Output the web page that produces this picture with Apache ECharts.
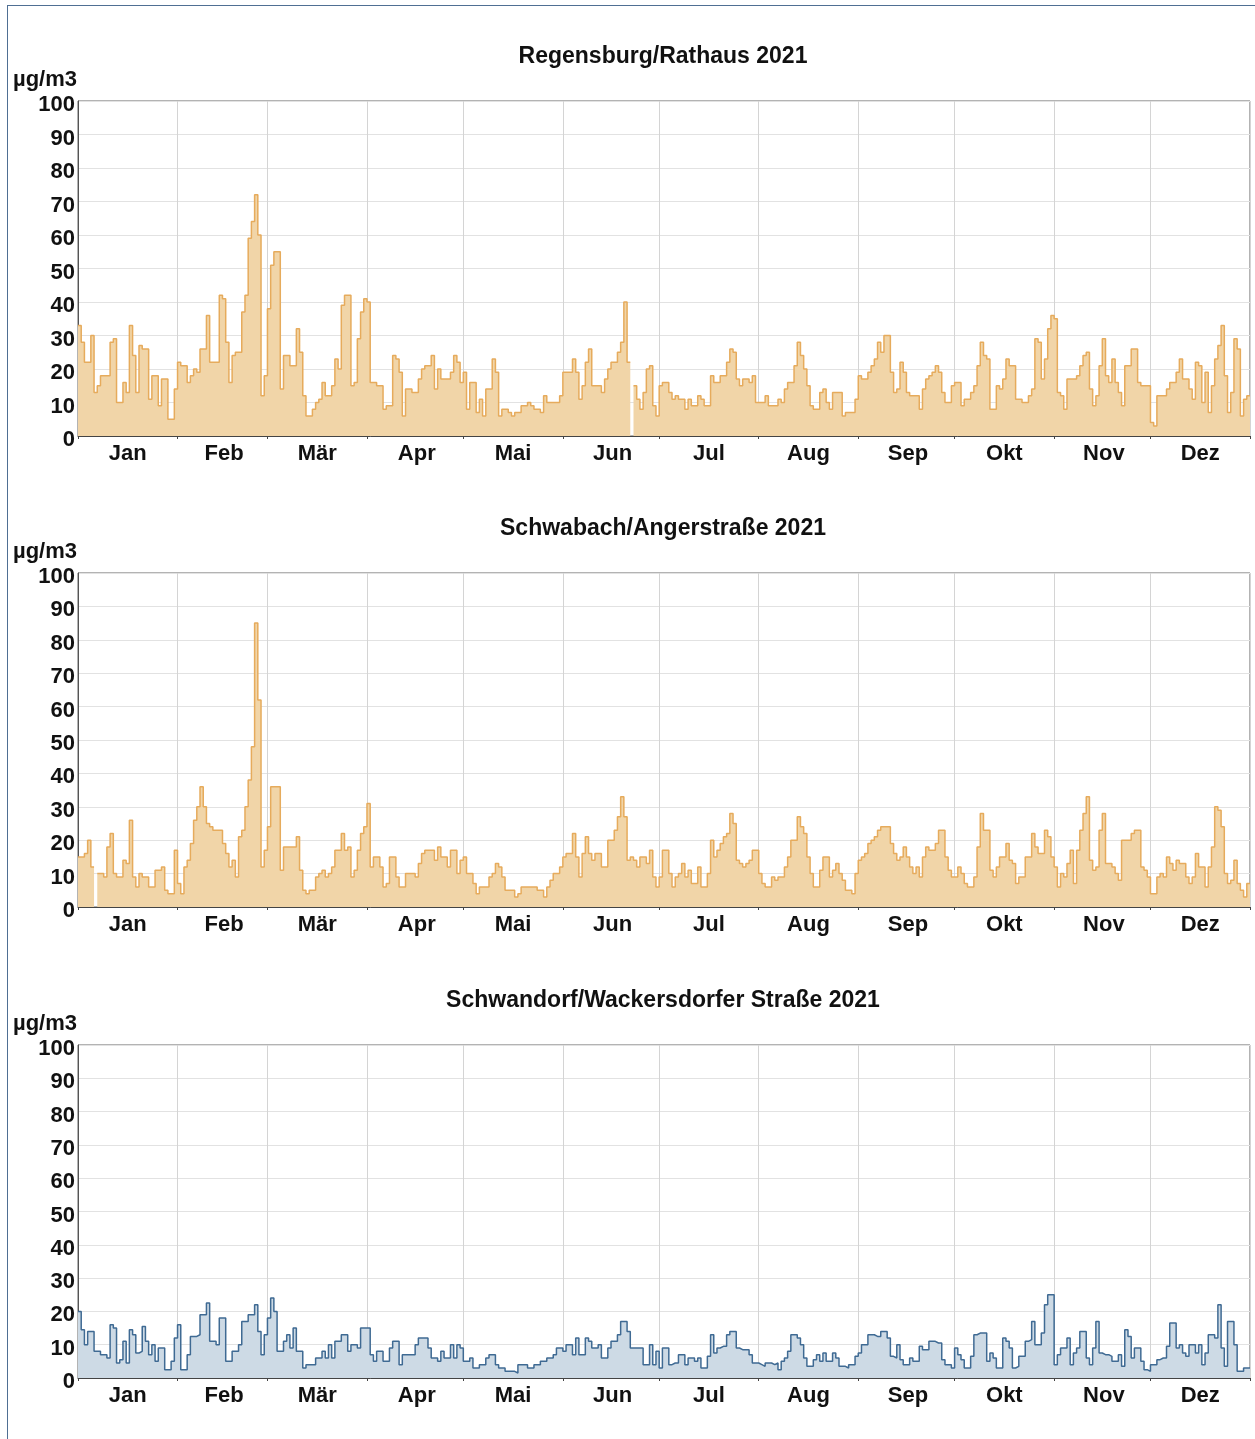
<!DOCTYPE html>
<html>
<head>
<meta charset="utf-8">
<script src="https://cdn.jsdelivr.net/npm/echarts@6/dist/echarts.min.js"></script>
<style>
  html, body { margin: 0; padding: 0; background: #fff; }
  #frame {
    position: absolute; left: 7px; top: 5px; right: 0; bottom: 0;
    border-top: 1px solid #4f6f93; border-left: 1px solid #4f6f93;
  }
  #chart { position: absolute; left: 0; top: 0; width: 1255px; height: 1439px; }
</style>
</head>
<body>
<div id="frame"></div>
<div id="chart"></div>
<script>
  // Tagesmittelwerte 2021 (µg/m3), ein Wert pro Tag, null = Datenlücke
  const months = ['Jan', 'Feb', 'Mär', 'Apr', 'Mai', 'Jun', 'Jul', 'Aug', 'Sep', 'Okt', 'Nov', 'Dez'];
  const monthDays = [31, 28, 31, 30, 31, 30, 31, 31, 30, 31, 30, 31];
  const yTicks = [0, 10, 20, 30, 40, 50, 60, 70, 80, 90, 100];
  const stations = ['Regensburg/Rathaus 2021', 'Schwabach/Angerstraße 2021', 'Schwandorf/Wackersdorfer Straße 2021'];

  const regensburg = [
    33, 28, 22, 22, 30, 13, 15, 18, 18, 18, 28, 29, 10, 10, 16, 13, 33, 24, 13, 27, 26, 26, 11, 18, 18, 9, 17, 17, 5, 5, 14,
    22, 21, 21, 16, 18, 20, 19, 26, 26, 36, 22, 22, 22, 42, 41, 28, 16, 24, 25, 25, 37, 42, 59, 64, 72, 60, 12, 18,
    38, 51, 55, 55, 14, 24, 24, 21, 21, 32, 25, 12, 6, 6, 8, 10, 11, 16, 12, 12, 15, 23, 20, 39, 42, 42, 15, 16, 29, 37, 41,
    40, 16, 16, 15, 15, 8, 9, 9, 24, 23, 19, 6, 14, 14, 13, 13, 17, 20, 21, 21, 24, 14, 20, 17, 17, 17, 19, 24, 22, 16,
    19, 8, 16, 16, 7, 11, 6, 14, 14, 23, 19, 6, 8, 8, 7, 6, 7, 7, 9, 9, 10, 9, 8, 8, 7, 12, 10, 10, 10, 10, 12,
    19, 19, 19, 23, 19, 11, 15, 22, 26, 15, 15, 15, 13, 17, 20, 22, 22, 25, 28, 40, 22, null, 15, 11, 8, 13, 20, 21, 9, 6,
    15, 16, 16, 13, 11, 12, 11, 11, 8, 11, 9, 9, 12, 11, 9, 9, 18, 16, 16, 18, 18, 22, 26, 25, 17, 15, 17, 17, 16, 18, 10,
    10, 10, 12, 9, 9, 9, 11, 10, 14, 16, 16, 21, 28, 24, 20, 15, 9, 8, 8, 13, 14, 10, 8, 13, 13, 13, 6, 7, 7, 7, 11,
    18, 17, 17, 19, 21, 23, 28, 25, 30, 30, 19, 13, 14, 22, 19, 13, 12, 12, 12, 8, 14, 17, 18, 19, 21, 19, 13, 10, 10, 15,
    16, 16, 9, 11, 11, 13, 15, 21, 28, 24, 23, 8, 8, 15, 14, 17, 23, 21, 21, 11, 11, 10, 10, 12, 14, 29, 28, 17, 23, 32, 36,
    35, 13, 12, 8, 17, 17, 17, 18, 21, 24, 25, 14, 9, 12, 21, 29, 18, 16, 23, 16, 13, 9, 21, 21, 26, 26, 16, 15, 15, 15,
    4, 3, 12, 12, 12, 14, 16, 16, 19, 23, 17, 17, 14, 11, 22, 21, 10, 19, 7, 15, 23, 27, 33, 18, 7, 13, 29, 26, 6, 11, 12
  ];

  const schwabach = [
    15, 15, 16, 20, 12, null, 10, 10, 9, 18, 22, 10, 9, 9, 14, 13, 26, 9, 6, 10, 9, 9, 6, 6, 11, 11, 12, 5, 4, 4, 17,
    7, 4, 12, 14, 19, 26, 30, 36, 30, 25, 24, 23, 23, 23, 19, 16, 12, 14, 9, 21, 23, 30, 38, 48, 85, 62, 12, 17,
    24, 36, 36, 36, 11, 18, 18, 18, 18, 21, 11, 5, 4, 5, 5, 9, 10, 11, 9, 10, 12, 17, 17, 22, 17, 18, 9, 11, 17, 22, 24,
    31, 12, 15, 15, 12, 6, 7, 15, 15, 9, 6, 6, 10, 10, 10, 9, 13, 16, 17, 17, 17, 14, 18, 15, 15, 12, 17, 17, 10, 14,
    15, 10, 10, 7, 4, 6, 6, 6, 9, 10, 13, 12, 9, 5, 5, 5, 3, 4, 6, 6, 6, 6, 6, 5, 5, 3, 6, 8, 10, 10, 12,
    15, 16, 16, 22, 15, 9, 16, 21, 16, 14, 16, 16, 12, 12, 20, 20, 23, 27, 33, 27, 14, 15, 14, 12, 15, 15, 13, 17, 9, 6,
    9, 17, 17, 10, 6, 9, 10, 13, 9, 11, 7, 7, 12, 6, 6, 10, 20, 15, 17, 19, 21, 22, 28, 25, 14, 13, 12, 13, 14, 17, 17,
    10, 7, 6, 6, 9, 8, 9, 9, 12, 15, 20, 20, 27, 24, 22, 15, 10, 6, 6, 11, 15, 15, 9, 11, 13, 10, 8, 5, 5, 4, 10,
    14, 15, 16, 19, 20, 21, 23, 24, 24, 24, 19, 16, 14, 15, 18, 15, 12, 10, 12, 9, 15, 18, 17, 17, 19, 23, 23, 15, 11, 9,
    9, 12, 10, 7, 6, 6, 9, 18, 28, 23, 23, 11, 9, 12, 15, 15, 19, 14, 13, 7, 9, 9, 15, 15, 22, 18, 16, 16, 23, 21, 15,
    12, 6, 10, 9, 13, 17, 7, 17, 23, 28, 33, 14, 11, 12, 23, 28, 13, 13, 12, 10, 8, 20, 20, 20, 22, 23, 23, 12, 11, 9,
    4, 4, 9, 10, 9, 15, 13, 11, 14, 13, 13, 9, 7, 9, 16, 12, 12, 6, 12, 18, 30, 29, 24, 10, 7, 8, 14, 7, 5, 3, 7
  ];

  const schwandorf = [
    20, 14.5, 10, 14, 14, 8, 8, 7, 7, 6, 16, 15, 4.5, 5.5, 11, 4.5, 14.5, 13, 7.5, 8, 15.5, 11, 7, 10, 5, 9, 9, 2.5, 2.5, 5, 12,
    16, 2.5, 2.5, 7, 12.5, 12.5, 13, 19, 19, 22.5, 11, 11, 10, 18, 18, 5, 5, 8, 8, 10, 17, 17, 19, 19, 22, 14, 7, 13,
    18, 24, 20, 8, 8, 11, 13, 9, 15, 8, 8, 3, 4, 4, 4, 6, 6, 8, 6, 10, 6, 11, 11, 13, 13, 8, 10, 10, 9, 15, 15,
    15, 7, 5, 8, 8, 5, 5, 9, 11, 11, 4, 7, 7, 7, 7, 10, 12, 12, 12, 9, 6, 6, 5, 8, 6, 6, 10, 6, 10, 9,
    5, 5, 6, 3, 3, 4, 4, 6, 7, 7, 4, 3, 3, 2, 2, 2, 1.5, 4, 4, 4, 3, 3, 4, 4, 5, 5, 6, 6, 7, 9, 9,
    8, 10, 10, 7, 12, 7, 7, 12, 11, 9, 9, 10, 6, 6, 9, 11, 11, 13, 17, 17, 14, 9, 9, 9, 9, 4, 4, 10, 4, 8,
    3, 9, 9, 4, 4.5, 4.5, 7, 7, 4, 6, 6, 5, 6, 3, 3, 6.5, 13, 7.5, 9, 9.5, 9.5, 13, 14, 14, 9, 8.5, 8.5, 8.5, 7, 4.5, 4.5,
    4, 3.5, 4.5, 4.5, 4, 4.5, 2.5, 5, 6, 8, 13, 13, 12, 10, 6, 3.5, 3.5, 5.5, 7, 5, 7.5, 5, 5, 7.5, 6, 3.5, 3.5, 3, 4, 4, 6.5,
    7.5, 10, 10, 13, 13, 12.5, 12.5, 14, 14, 12, 6.5, 6, 10, 5.5, 4, 4, 6, 5, 5, 9.5, 8.5, 8.5, 11, 11, 10.5, 10.5, 5.5, 4, 4, 3,
    9, 7, 5.5, 3, 3, 6.5, 13, 13.5, 13.5, 13.5, 5, 7.5, 6, 3, 3, 12, 11, 9, 3, 3.5, 6.5, 6.5, 11, 11.5, 17, 10, 10, 13.5, 22, 25, 25,
    4, 7, 9, 9, 12, 4, 7.5, 9, 14, 14, 6, 4, 9, 17, 7.5, 7, 7, 6.5, 5, 5, 7, 3.5, 14.5, 12.5, 6, 9, 9, 5, 2.5, 2,
    4, 4, 5.5, 6, 6, 9.5, 16.5, 16.5, 9, 10, 7.5, 6.5, 10, 10, 7.5, 10, 4, 7.5, 13, 13, 12, 22, 9, 3.5, 17, 17, 10, 2, 2, 3, 3
  ];

  const FONT = '"Liberation Sans", Arial, sans-serif';

  // Tag -> Monatsname, Monatsanfänge und Monatsmitten
  const dayMonth = [];
  const monthStart = new Set();
  const monthMid = new Set();
  monthDays.forEach((n, m) => {
    monthStart.add(dayMonth.length);
    monthMid.add(dayMonth.length + Math.floor(n / 2));
    for (let i = 0; i < n; i++) dayMonth.push(months[m]);
  });

  // Treppenkurve: jeder Tageswert gilt von d bis d+1
  function stepData(vals) {
    const out = [];
    vals.forEach((v, d) => {
      if (v == null) out.push([d, null]);
      else out.push([d, v], [d + 1, v]);
    });
    return out;
  }

  const panels = [
    { data: regensburg, top: 101, height: 335, line: '#e6ab5c', fill: '#f1d5a8' },
    { data: schwabach, top: 573, height: 334, line: '#e6ab5c', fill: '#f1d5a8' },
    { data: schwandorf, top: 1045, height: 333, line: '#3f6a93', fill: '#cddae5' },
  ];

  const chart = echarts.init(document.getElementById('chart'));

  const option = {
    animation: false,
    title: [],
    grid: [],
    xAxis: [],
    yAxis: [],
    series: [],
  };

  panels.forEach((p, i) => {
    option.title.push({
      text: stations[i],
      left: 658,
      top: p.top - 61,
      textAlign: 'center',
      textStyle: { fontFamily: FONT, fontWeight: 'bold', fontSize: 23, color: '#111' },
    });
    option.title.push({
      text: 'µg/m3',
      left: 8,
      top: p.top - 37,
      textStyle: { fontFamily: FONT, fontWeight: 'bold', fontSize: 22, color: '#111' },
    });
    option.grid.push({
      left: 78,
      top: p.top,
      width: 1172,
      height: p.height,
      show: true,
      borderColor: '#666',
      borderWidth: 1,
      backgroundColor: '#fff',
    });
    // Monatsachse (Beschriftung, Trennlinien)
    option.xAxis.push({
      type: 'category',
      gridIndex: i,
      data: dayMonth,
      boundaryGap: true,
      axisLine: { lineStyle: { color: '#444' } },
      axisTick: { show: true, length: 3, interval: (idx) => monthStart.has(idx), lineStyle: { color: '#444' } },
      axisLabel: {
        interval: (idx) => monthMid.has(idx),
        margin: 7,
        fontFamily: FONT,
        fontWeight: 'bold',
        fontSize: 22,
        color: '#111',
      },
      splitLine: { show: true, interval: (idx) => monthStart.has(idx) && idx > 0, lineStyle: { color: '#d4d4d4' } },
    });
    // Tagesachse für die Daten
    option.xAxis.push({
      type: 'value',
      gridIndex: i,
      min: 0,
      max: 365,
      show: false,
    });
    option.yAxis.push({
      type: 'value',
      gridIndex: i,
      min: yTicks[0],
      max: yTicks[yTicks.length - 1],
      interval: 10,
      axisLine: { show: true, lineStyle: { color: '#555' } },
      axisTick: { show: false },
      axisLabel: {
        margin: 3,
        verticalAlign: 'top',
        lineHeight: 8,
        fontFamily: FONT,
        fontWeight: 'bold',
        fontSize: 22,
        color: '#111',
      },
      splitLine: { lineStyle: { color: '#e2e2e2' } },
    });
    option.series.push({
      type: 'line',
      xAxisIndex: i * 2 + 1,
      yAxisIndex: i,
      data: stepData(p.data),
      symbol: 'none',
      connectNulls: false,
      lineStyle: { color: p.line, width: 1.5 },
      areaStyle: { color: p.fill, opacity: 1 },
    });
  });

  chart.setOption(option);
</script>
</body>
</html>
